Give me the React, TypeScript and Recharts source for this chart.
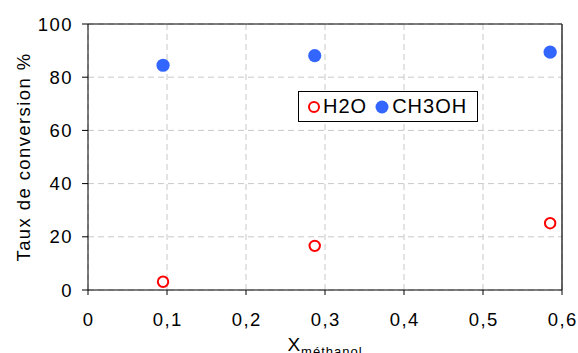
import {
  ScatterChart,
  Scatter,
  XAxis,
  YAxis,
  CartesianGrid,
  ReferenceLine,
} from "recharts";

const xMethanol = [0.095, 0.287, 0.585];
const h2o = [3.1, 16.6, 25.1];
const ch3oh = [84.5, 88.1, 89.4];
const xTicks = [0, 0.1, 0.2, 0.3, 0.4, 0.5, 0.6];
const yTicks = [0, 20, 40, 60, 80, 100];

const h2oData = xMethanol.map((x, i) => ({ x, y: h2o[i] }));
const ch3ohData = xMethanol.map((x, i) => ({ x, y: ch3oh[i] }));

const FONT = "'Liberation Sans', Arial, sans-serif";
const FS = 18.5;
const LS = 1.5;
const RED = "#ff0000";
const BLUE = "#3366ff";

const OpenCircle = (p: any) => (
  <circle cx={p.cx} cy={p.cy} r={5.2} fill="#fff" stroke={RED} strokeWidth={2} />
);
const FilledCircle = (p: any) => (
  <circle cx={p.cx} cy={p.cy} r={6.6} fill={BLUE} />
);

function LegendBox() {
  return (
    <div
      style={{
        position: "absolute",
        left: 298,
        top: 91,
        width: 180,
        height: 31,
        border: "1px solid #000",
        background: "#fff",
        display: "flex",
        alignItems: "center",
        fontFamily: FONT,
        fontSize: 20,
        letterSpacing: 1,
        color: "#000",
        boxSizing: "border-box",
      }}
    >
      <svg width={14} height={14} style={{ marginLeft: 8 }}>
        <circle cx={7} cy={7} r={5} fill="#fff" stroke={RED} strokeWidth={2} />
      </svg>
      <span style={{ marginLeft: 2 }}>H2O</span>
      <svg width={16} height={16} style={{ marginLeft: 7 }}>
        <circle cx={8} cy={8} r={6.5} fill={BLUE} />
      </svg>
      <span style={{ marginLeft: 2 }}>CH3OH</span>
    </div>
  );
}

export default function App() {
  return (
    <div style={{ position: "absolute", left: 0, top: 0, width: 578, height: 353, background: "#fff" }}>
      <ScatterChart
        width={578}
        height={353}
        margin={{ top: 24, right: 16, bottom: 33, left: 28 }}
        style={{ fontFamily: FONT }}
      >
        <CartesianGrid stroke="#c8c8c8" strokeDasharray="6 4" />
        <XAxis
          type="number"
          dataKey="x"
          domain={[0, 0.6]}
          ticks={xTicks}
          height={30}
          stroke="#000"
          tickSize={5}
          tickMargin={18}
          tick={{ fill: "#000", fontSize: FS, letterSpacing: LS, dx: LS / 2 }}
          tickFormatter={(v: number) => String(v).replace(".", ",")}
          label={{
            content: (props: any) => {
              const vb = props.viewBox;
              return (
                <text
                  x={vb.x + vb.width / 2}
                  y={351}
                  textAnchor="middle"
                  fill="#000"
                  fontSize={19}
                  fontFamily={FONT}
                  letterSpacing={1}
                >
                  <tspan>X</tspan>
                  <tspan dy={5} fontSize={13}>méthanol</tspan>
                </text>
              );
            },
          }}
        />
        <YAxis
          type="number"
          dataKey="y"
          domain={[0, 100]}
          ticks={yTicks}
          width={60}
          stroke="#000"
          tickSize={6}
          tickMargin={9}
          tick={{ fill: "#000", fontSize: FS, letterSpacing: LS }}
          label={{
            content: (props: any) => {
              const vb = props.viewBox;
              const cx = vb.x - 5;
              const cy = vb.y + vb.height / 2;
              return (
                <text
                  x={cx}
                  y={cy}
                  textAnchor="middle"
                  dominantBaseline="central"
                  transform={`rotate(-90 ${cx} ${cy})`}
                  fill="#000"
                  fontSize={FS}
                  fontFamily={FONT}
                  letterSpacing={1.4}
                >
                  Taux de conversion %
                </text>
              );
            },
          }}
        />
        <ReferenceLine y={100} stroke="#000" strokeWidth={1} />
        <ReferenceLine x={0.6} stroke="#333" strokeWidth={1.5} />
        <Scatter
          name="H2O"
          data={h2oData}
          shape={OpenCircle}
          isAnimationActive={false}
        />
        <Scatter
          name="CH3OH"
          data={ch3ohData}
          shape={FilledCircle}
          isAnimationActive={false}
        />
      </ScatterChart>
      <LegendBox />
    </div>
  );
}
